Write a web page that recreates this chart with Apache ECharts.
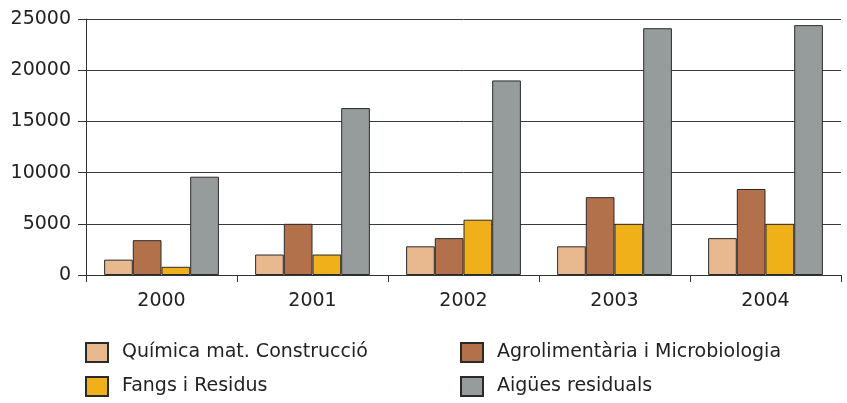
<!DOCTYPE html>
<html><head><meta charset="utf-8">
<script src="https://cdn.jsdelivr.net/npm/echarts@6/dist/echarts.min.js"></script>
<style>html,body{margin:0;padding:0;background:#fff}#c{width:847px;height:403px}</style>
</head><body><div id="c"></div>
<script>
var categories = ['2000','2001','2002','2003','2004'];
var quimica = [1500, 2000, 2800, 2800, 3600];
var agro = [3400, 5000, 3600, 7600, 8400];
var fangs = [800, 2000, 5400, 5000, 5000];
var aigues = [9600, 16300, 19000, 24100, 24400];
var yTicks = [0, 5000, 10000, 15000, 20000, 25000];
var names = ['Química mat. Construcció','Agrolimentària i Microbiologia','Fangs i Residus','Aigües residuals'];
var colors = ['#E8B88E','#B2714A','#F0B01A','#969C9C'];
var values = [quimica, agro, fangs, aigues];

var chart = echarts.init(document.getElementById('c'));
var legendPos = [[85,342],[460,342],[85,376],[460,376]];
var legends = names.map(function(n,i){
  return {data:[n], left:legendPos[i][0], top:legendPos[i][1], itemWidth:22, itemHeight:19,
    itemGap:0, selectedMode:false, icon:'rect', padding:0,
    textStyle:{fontFamily:'DejaVu Sans', fontSize:19, color:'#222', padding:[0,0,0,9]}};
});
chart.setOption({
  animation:false,
  legend: legends,
  grid:{left:86, right:6, top:19, bottom:128},
  xAxis:{type:'category', data:categories,
    axisLine:{lineStyle:{color:'#333'}},
    axisTick:{show:true, length:7, lineStyle:{color:'#333'}},
    axisLabel:{color:'#222', fontFamily:'DejaVu Sans', fontSize:19, margin:17}},
  yAxis:{type:'value', min:0, max:25000, interval:5000,
    axisLine:{show:true, lineStyle:{color:'#333'}},
    axisTick:{show:true, length:8, lineStyle:{color:'#333'}},
    splitLine:{lineStyle:{color:'#3a3a3a'}},
    axisLabel:{color:'#222', fontFamily:'DejaVu Sans', fontSize:19, margin:15,
      formatter:function(v){return yTicks.indexOf(v)>=0?String(v):'';}}},
  series: names.map(function(n,i){
    return {name:n, type:'bar', data:values[i], barGap:'0%', barCategoryGap:'24%',
      itemStyle:{color:colors[i], borderColor:'#2a2a2a', borderWidth:1}};
  })
});
</script></body></html>
